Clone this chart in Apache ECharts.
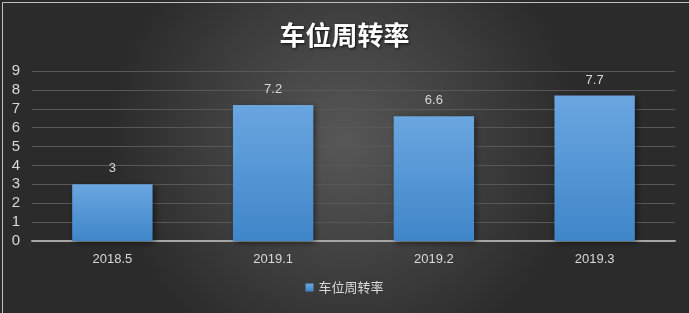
<!DOCTYPE html>
<html><head><meta charset="utf-8">
<script src="https://cdn.jsdelivr.net/npm/echarts@6/dist/echarts.min.js"></script>
<style>html,body{margin:0;padding:0;background:#3a3a3a;}#c{width:689px;height:313px;}</style>
</head><body><div id="c"></div>
<script>
const categories = ['2018.5','2019.1','2019.2','2019.3'];
const values = [3, 7.2, 6.6, 7.7];
const seriesName = '车位周转率';
const chart = echarts.init(document.getElementById('c'));
chart.setOption({
  backgroundColor: {type:'radial', x:0.5, y:0.45, r:0.75, colorStops:[{offset:0,color:'#575757'},{offset:1,color:'#2b2b2b'}]},
  graphic: [{type:'rect', left:0, top:0, shape:{x:0.5,y:0.5,width:688,height:312}, style:{fill:'none', stroke:'#bfbfbf', lineWidth:1}, silent:true}],
  title: {text: seriesName, left:'center', top:17, textStyle:{color:'#ffffff', fontSize:26, fontWeight:'bold', fontFamily:'Noto Sans CJK SC', textShadowColor:'rgba(0,0,0,0.8)', textShadowBlur:3, textShadowOffsetX:1, textShadowOffsetY:1}},
  legend: {bottom:14, left:'center', itemWidth:8, itemHeight:8, icon:'rect', itemGap:4, textStyle:{color:'#d9d9d9', fontSize:13, fontFamily:'Noto Sans CJK SC'}, data:[seriesName]},
  grid: {left:32, right:14, top:71, bottom:72, containLabel:false},
  xAxis: {type:'category', data:categories, axisLine:{lineStyle:{color:'#a6a6a6', width:2}}, axisTick:{show:false}, axisLabel:{color:'#d9d9d9', fontSize:13, fontFamily:'Liberation Sans', margin:12}},
  yAxis: {type:'value', min:0, max:9, interval:1, axisLine:{show:false}, axisTick:{show:false}, splitLine:{lineStyle:{color:'#585858', width:1}}, axisLabel:{color:'#d9d9d9', fontSize:15, fontFamily:'Liberation Sans', margin:12, align:'right'}},
  series: [{name:seriesName, type:'bar', data:values, barWidth:'50%',
    itemStyle:{color:{type:'linear',x:0,y:0,x2:0,y2:1,colorStops:[{offset:0,color:'#6aa6e0'},{offset:1,color:'#3f86c9'}]}, shadowColor:'rgba(0,0,0,0.5)', shadowBlur:6, shadowOffsetX:2, shadowOffsetY:2},
    label:{show:true, position:'top', distance:9, color:'#d9d9d9', fontSize:13, fontFamily:'Liberation Sans'}}]
});
</script></body></html>
